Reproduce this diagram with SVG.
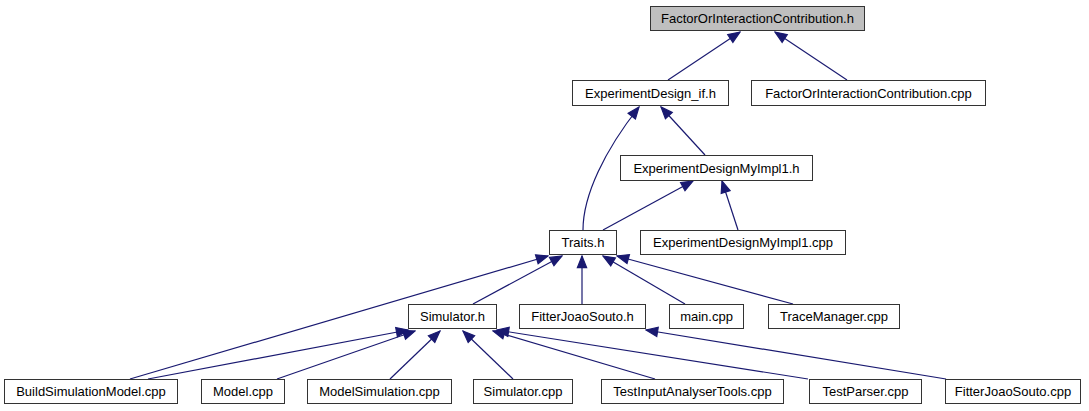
<svg xmlns="http://www.w3.org/2000/svg" width="1089" height="411" viewBox="0 0 1089 411">
<style>
.node rect { fill: #ffffff; stroke: #333333; stroke-width: 1; }
.node.root rect { fill: #bfbfbf; }
.node text { font-family: "Liberation Sans", Arial, sans-serif; font-size: 13px; fill: #000000; text-anchor: middle; }
.edges path { fill: none; stroke: #191970; stroke-width: 1.2; marker-end: url(#arrow); }
</style>
<defs>
<marker id="arrow" markerUnits="userSpaceOnUse" markerWidth="14" markerHeight="12" viewBox="-1 -5 12 10" refX="10" refY="0" orient="auto">
<path d="M0,-4 L10,0 L0,4 z" fill="#191970" stroke="#191970" stroke-width="1"/>
</marker>
</defs>
<rect x="0" y="0" width="1089" height="411" fill="#ffffff"/>
<g id="edges" class="edges">
<path d="M668,80 L740,32"/>
<path d="M847,80 L775,32"/>
<path d="M583,230 C583,195 605,150 639,107"/>
<path d="M705,155 L661,107"/>
<path d="M603,230 L693,181"/>
<path d="M738,230 L722,181"/>
<path d="M473,304 L562,256"/>
<path d="M130,379 L548,256"/>
<path d="M582,304 L582,256"/>
<path d="M685,304 L603,256"/>
<path d="M793,304 L617,256"/>
<path d="M148,379 L408,330"/>
<path d="M277,379 L415,331"/>
<path d="M390,379 L440,331"/>
<path d="M513,379 L463,331"/>
<path d="M655,379 L493,331"/>
<path d="M808,379 L497,330"/>
<path d="M946,379 L646,330"/>
</g>
<g id="node-FactorOrInteractionContribution-h" class="node root"><rect x="650.5" y="6.5" width="214" height="24"/><text x="757.5" y="23">FactorOrInteractionContribution.h</text></g>
<g id="node-ExperimentDesign-if-h" class="node"><rect x="572.5" y="80.5" width="156" height="25"/><text x="650.5" y="97.5">ExperimentDesign_if.h</text></g>
<g id="node-FactorOrInteractionContribution-cpp" class="node"><rect x="751.5" y="80.5" width="234" height="25"/><text x="868.5" y="97.5">FactorOrInteractionContribution.cpp</text></g>
<g id="node-ExperimentDesignMyImpl1-h" class="node"><rect x="620.5" y="155.5" width="192" height="25"/><text x="716.5" y="172.5">ExperimentDesignMyImpl1.h</text></g>
<g id="node-Traits-h" class="node"><rect x="549.5" y="230.5" width="67" height="24"/><text x="583" y="247">Traits.h</text></g>
<g id="node-ExperimentDesignMyImpl1-cpp" class="node"><rect x="640.5" y="230.5" width="205" height="24"/><text x="743" y="247">ExperimentDesignMyImpl1.cpp</text></g>
<g id="node-Simulator-h" class="node"><rect x="408.5" y="304.5" width="88" height="24"/><text x="452.5" y="321">Simulator.h</text></g>
<g id="node-FitterJoaoSouto-h" class="node"><rect x="519.5" y="304.5" width="126" height="24"/><text x="582.5" y="321">FitterJoaoSouto.h</text></g>
<g id="node-main-cpp" class="node"><rect x="669.5" y="304.5" width="74" height="24"/><text x="706.5" y="321">main.cpp</text></g>
<g id="node-TraceManager-cpp" class="node"><rect x="768.5" y="304.5" width="131" height="24"/><text x="834" y="321">TraceManager.cpp</text></g>
<g id="node-BuildSimulationModel-cpp" class="node"><rect x="4.5" y="379.5" width="173" height="24"/><text x="91" y="396">BuildSimulationModel.cpp</text></g>
<g id="node-Model-cpp" class="node"><rect x="201.5" y="379.5" width="83" height="24"/><text x="243" y="396">Model.cpp</text></g>
<g id="node-ModelSimulation-cpp" class="node"><rect x="307.5" y="379.5" width="144" height="24"/><text x="379.5" y="396">ModelSimulation.cpp</text></g>
<g id="node-Simulator-cpp" class="node"><rect x="473.5" y="379.5" width="99" height="24"/><text x="523" y="396">Simulator.cpp</text></g>
<g id="node-TestInputAnalyserTools-cpp" class="node"><rect x="601.5" y="379.5" width="182" height="24"/><text x="692.5" y="396">TestInputAnalyserTools.cpp</text></g>
<g id="node-TestParser-cpp" class="node"><rect x="809.5" y="379.5" width="112" height="24"/><text x="865.5" y="396">TestParser.cpp</text></g>
<g id="node-FitterJoaoSouto-cpp" class="node"><rect x="945.5" y="379.5" width="135" height="24"/><text x="1013" y="396">FitterJoaoSouto.cpp</text></g>
</svg>
